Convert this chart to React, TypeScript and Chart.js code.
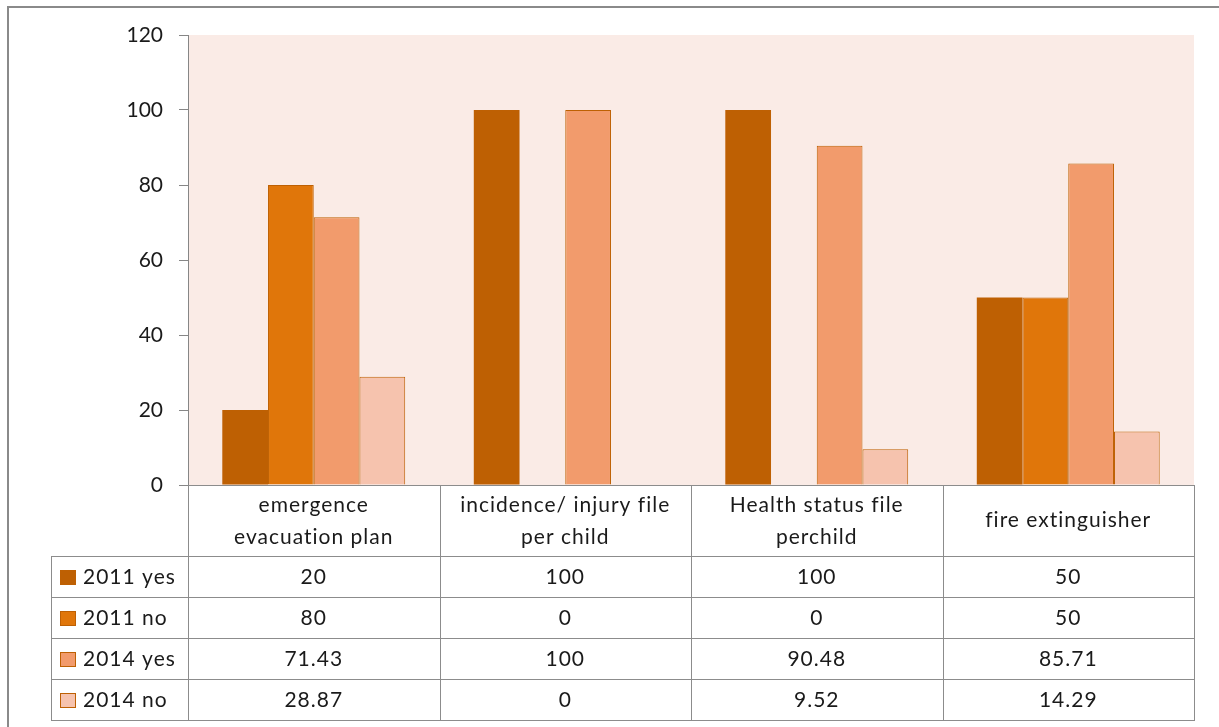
import React, { useEffect, useRef } from "react";
import { Chart, registerables } from "chart.js";

Chart.register(...registerables);

const categoryLines: string[][] = [
  ["emergence", "evacuation plan"],
  ["incidence/ injury file", "per child"],
  ["Health status file", "perchild"],
  ["fire extinguisher"],
];
const seriesNames = ["2011 yes", "2011 no", "2014 yes", "2014 no"];
const yes2011 = [20, 100, 100, 50];
const no2011 = [80, 0, 0, 50];
const yes2014 = [71.43, 100, 90.48, 85.71];
const no2014 = [28.87, 0, 9.52, 14.29];
const yTicks = [0, 20, 40, 60, 80, 100, 120];

const fills = ["#BE6003", "#E0760A", "#F29B6C", "#F6C3AE"];
const edge = "#BE6003";
const FONT = "Lato";
const TEXT = "#1a1a1a";
const LINE = "#8c8c8c";

export default function App() {
  const ref = useRef<HTMLCanvasElement>(null);
  useEffect(() => {
    const canvas = ref.current!;
    const seriesValues = [yes2011, no2011, yes2014, no2014];

    const tablePlugin = {
      id: "tablePlugin",
      beforeDraw(chart: any) {
        const { ctx, chartArea } = chart;
        ctx.save();
        ctx.fillStyle = "#FAEBE6";
        ctx.fillRect(chartArea.left, chartArea.top, chartArea.right - chartArea.left, chartArea.bottom - chartArea.top);
        ctx.restore();
      },
      afterDraw(chart: any) {
        const { ctx, chartArea } = chart;
        const xs = chart.scales.x;
        const n = categoryLines.length;
        const left = chartArea.left;
        const right = chartArea.right;
        const top = chartArea.bottom;
        const headerBottom = top + 71;
        const rowH = 41;
        const legendLeft = 51;
        const bottom = headerBottom + rowH * seriesNames.length - 1;
        const bounds: number[] = [left];
        for (let i = 0; i < n - 1; i++) {
          bounds.push((xs.getPixelForValue(i) + xs.getPixelForValue(i + 1)) / 2);
        }
        bounds.push(right);

        ctx.save();
        // outer frame
        ctx.strokeStyle = "#8a8a8a";
        ctx.lineWidth = 2;
        ctx.beginPath();
        ctx.moveTo(8, 727);
        ctx.lineTo(8, 7);
        ctx.lineTo(1219, 7);
        ctx.stroke();

        // table grid
        ctx.strokeStyle = LINE;
        ctx.lineWidth = 1;
        ctx.beginPath();
        const hl = (y: number, x0: number, x1: number) => {
          ctx.moveTo(x0, Math.round(y) + 0.5);
          ctx.lineTo(x1, Math.round(y) + 0.5);
        };
        const vl = (x: number, y0: number, y1: number) => {
          ctx.moveTo(Math.round(x) + 0.5, y0);
          ctx.lineTo(Math.round(x) + 0.5, y1);
        };
        hl(top, left, right + 1);
        for (let r = 0; r <= seriesNames.length; r++) hl(headerBottom + r * rowH, legendLeft, right + 1);
        vl(legendLeft, headerBottom, bottom + 1);
        bounds.forEach((b) => vl(b, top, bottom + 1));
        ctx.stroke();

        // text
        ctx.fillStyle = TEXT;
        ctx.font = `21px ${FONT}`;
        (ctx as any).letterSpacing = "1px";
        ctx.textAlign = "center";
        ctx.textBaseline = "alphabetic";
        categoryLines.forEach((lines, i) => {
          const cx = xs.getPixelForValue(i);
          if (lines.length === 1) {
            ctx.fillText(lines[0], cx, top + 42);
          } else {
            ctx.fillText(lines[0], cx, top + 27);
            ctx.fillText(lines[1], cx, top + 59);
          }
        });
        seriesNames.forEach((name, r) => {
          const rt = headerBottom + r * rowH;
          const base = rt + 28;
          // swatch
          ctx.fillStyle = fills[r];
          ctx.fillRect(60, rt + 14, 16, 15);
          ctx.strokeStyle = edge;
          ctx.lineWidth = 1;
          ctx.strokeRect(60.5, rt + 14.5, 15, 14);
          ctx.fillStyle = TEXT;
          ctx.textAlign = "left";
          ctx.fillText(name, 83, base);
          ctx.textAlign = "center";
          seriesValues[r].forEach((v, i) => {
            ctx.fillText(String(v), xs.getPixelForValue(i), base);
          });
        });
        ctx.restore();
      },
    };

    const chart = new Chart(canvas, {
      type: "bar",
      data: {
        labels: categoryLines.map((l) => l.join(" ")),
        datasets: seriesNames.map((name, i) => ({
          label: name,
          data: seriesValues[i],
          backgroundColor: fills[i],
          borderColor: edge,
          borderWidth: i === 0 ? 0 : 1,
          borderSkipped: "bottom",
          categoryPercentage: 4 / 5.5,
          barPercentage: 1,
        })),
      },
      options: {
        responsive: false,
        animation: false,
        layout: { padding: { left: 0, top: 35, right: 25, bottom: 242 } },
        plugins: { legend: { display: false }, tooltip: { enabled: false } },
        scales: {
          x: { display: false },
          y: {
            min: 0,
            max: 120,
            afterFit: (s: any) => {
              s.width = 188;
            },
            afterBuildTicks: (s: any) => {
              s.ticks = yTicks.map((v) => ({ value: v }));
            },
            ticks: {
              color: TEXT,
              padding: 16,
              font: { family: FONT, size: 21 },
            },
            grid: {
              drawOnChartArea: false,
              drawTicks: true,
              tickLength: 9,
              color: "#868686",
            },
            border: { display: true, color: "#868686", width: 1 },
          },
        },
      },
      plugins: [tablePlugin],
    });
    return () => chart.destroy();
  }, []);

  return (
    <div style={{ position: "absolute", left: 0, top: 0, width: 1219, height: 727, background: "#fff" }}>
      <canvas ref={ref} width={1219} height={727} style={{ display: "block" }} />
    </div>
  );
}
